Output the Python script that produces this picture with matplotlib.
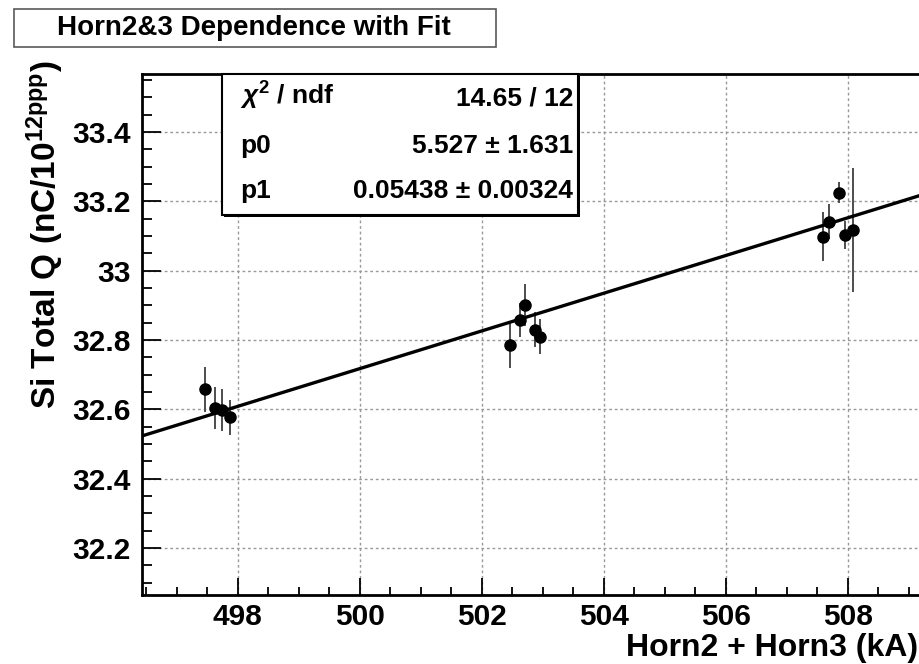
import numpy as np
import matplotlib
matplotlib.use("Agg")
import matplotlib.pyplot as plt
from matplotlib.patches import Rectangle
from matplotlib.ticker import MultipleLocator

plt.rcParams['font.family'] = ['Liberation Sans', 'DejaVu Sans']
plt.rcParams['font.weight'] = 'bold'
plt.rcParams['mathtext.fontset'] = 'custom'
plt.rcParams['mathtext.rm'] = 'Liberation Sans:bold'
plt.rcParams['mathtext.bf'] = 'Liberation Sans:bold'
plt.rcParams['mathtext.it'] = 'Liberation Sans:italic:bold'

# horn2 + horn3 current (kA) and Si total charge per 1e12 ppp
horn_current = [497.46, 497.62, 497.74, 497.87,
                502.46, 502.62, 502.71, 502.87, 502.95,
                507.60, 507.70, 507.86, 507.95, 508.09]
si_charge = [32.657, 32.603, 32.598, 32.577,
             32.785, 32.857, 32.901, 32.829, 32.809,
             33.098, 33.141, 33.225, 33.103, 33.117]
si_charge_err = [0.065, 0.06, 0.06, 0.05,
                 0.066, 0.05, 0.06, 0.05, 0.05,
                 0.07, 0.05, 0.03, 0.04, 0.18]

# pol1 fit result
p0, p0_err = 5.527, 1.631
p1, p1_err = 0.05438, 0.00324
chi2, ndf = 14.65, 12

xticks = [498, 500, 502, 504, 506, 508]
yticks = [32.2, 32.4, 32.6, 32.8, 33.0, 33.2, 33.4]
ytick_labels = ['32.2', '32.4', '32.6', '32.8', '33', '33.2', '33.4']

W, H = 920, 664
fig = plt.figure(figsize=(W / 100, H / 100), dpi=100)

def px(x0, y0, x1, y1):
    # pixel box (top-left origin) -> figure fraction rect
    return [x0 / W, 1 - y1 / H, (x1 - x0) / W, (y1 - y0) / H]

ax = fig.add_axes(px(142, 74, 930, 595))
ax.set_xlim(496.43, 509.35)
ax.set_ylim(32.064, 33.567)

ax.grid(True, which='major', color='0.6', linestyle=(0, (2, 2)), linewidth=1)
ax.set_axisbelow(True)

ax.errorbar(horn_current, si_charge, yerr=si_charge_err, fmt='o', color='black',
            ecolor='0.3', elinewidth=1.4, markersize=8, capsize=0, zorder=3)

xs = np.array(ax.get_xlim())
ax.plot(xs, p0 + p1 * xs, color='black', linewidth=2.4, zorder=4)

ax.xaxis.set_minor_locator(MultipleLocator(0.5))
ax.yaxis.set_minor_locator(MultipleLocator(0.05))
ax.set_xticks(xticks)
ax.set_yticks(yticks)
ax.set_yticklabels(ytick_labels)

ax.tick_params(axis='both', which='both', direction='in', top=False, right=False,
               width=1.3, labelsize=21.5, colors='black')
ax.tick_params(axis='x', which='major', length=12, pad=6)
ax.tick_params(axis='x', which='minor', length=6)
ax.tick_params(axis='y', which='major', length=14, pad=8)
ax.tick_params(axis='y', which='minor', length=7)
for lab in ax.get_xticklabels() + ax.get_yticklabels():
    lab.set_fontweight('bold')
for s in ax.spines.values():
    s.set_linewidth(2)

fig.text(918 / W, 1 - 656 / H, 'Horn2 + Horn3 (kA)', ha='right', va='baseline',
         fontsize=23, fontweight='bold')
fig.text(45 / W, 1 - 235 / H, r'Si Total Q (nC/10$^{\mathbf{12ppp}}$)',
         rotation=90, ha='center', va='center', fontsize=24, fontweight='bold')

# title box
tb = px(14, 9, 496, 47)
fig.patches.append(Rectangle((tb[0], tb[1]), tb[2], tb[3], transform=fig.transFigure,
                             facecolor='white', edgecolor='0.35', linewidth=1.2))
fig.text(254 / W, 1 - 28 / H, 'Horn2&3 Dependence with Fit', ha='center', va='center',
         fontsize=20, fontweight='bold')

# fit statistics box
sb = px(222, 74, 578, 215)
fig.patches.append(Rectangle((sb[0] + 2 / W, sb[1] - 2 / H), sb[2], sb[3],
                             transform=fig.transFigure, facecolor='black',
                             edgecolor='none', zorder=5))
fig.patches.append(Rectangle((sb[0], sb[1]), sb[2], sb[3], transform=fig.transFigure,
                             facecolor='white', edgecolor='black', linewidth=1.5,
                             zorder=6))
rows = [(r'$\mathit{\chi}^{2}$ / ndf', f'{chi2:.2f} / {ndf}', 105),
        ('p0', f'{p0:.3f} ± {p0_err:.3f}', 153),
        ('p1', f'{p1:.5f} ± {p1_err:.5f}', 198)]
for name, val, ybase in rows:
    fig.text(240 / W, 1 - ybase / H, name, ha='left', va='baseline', fontsize=19,
             fontweight='bold', zorder=7)
    fig.text(573 / W, 1 - ybase / H, val, ha='right', va='baseline', fontsize=19,
             fontweight='bold', zorder=7)

fig.savefig('out.png', dpi=100)
